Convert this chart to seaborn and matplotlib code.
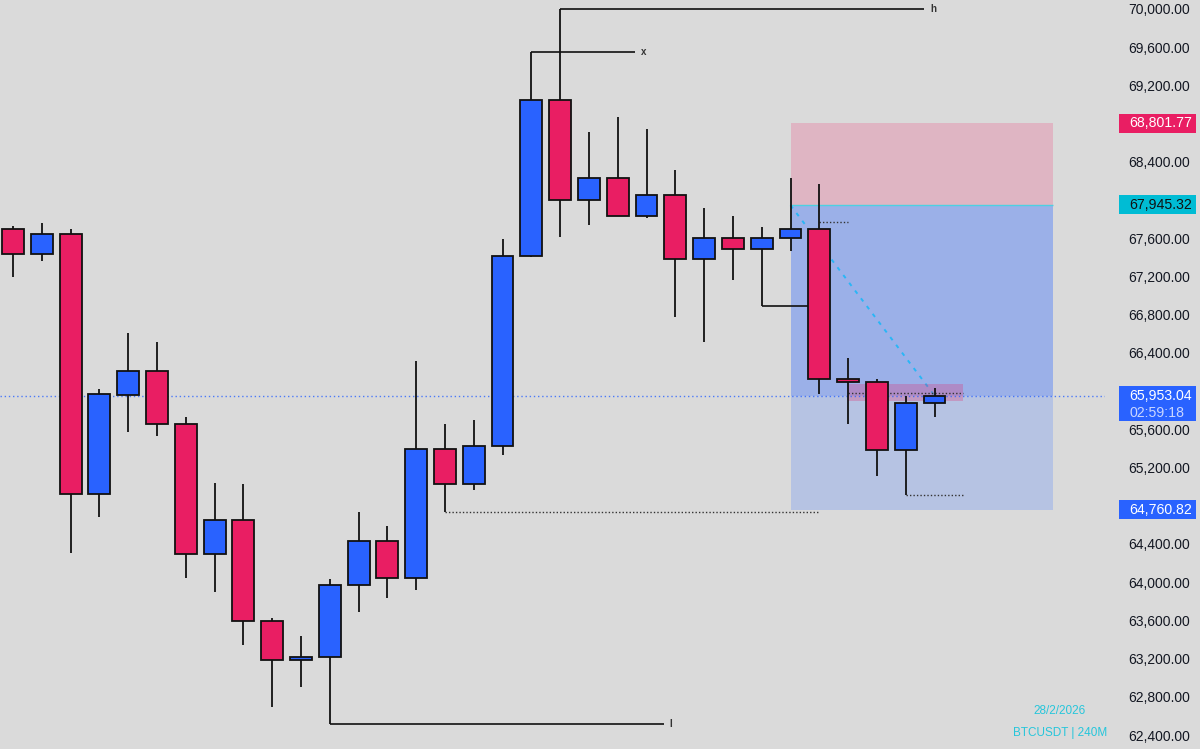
import numpy as np
import matplotlib.pyplot as plt
import matplotlib.transforms as mtransforms
from matplotlib.patches import Rectangle
import seaborn as sns

# BTCUSDT 4h candles
opens = [67697, 67435, 67645, 64923, 65959, 66211, 65656, 64295, 64651, 63594,
         63185, 63217, 63970, 64431, 64044, 65394, 65028, 65425, 67414, 69047,
         68001, 68231, 67833, 68053, 67383, 67603, 67488, 67603, 67697, 66127,
         66095, 65384, 65876]
highs = [67728, 67760, 67697, 66022, 66608, 66514, 65729, 65038, 65028, 63625,
         63437, 64033, 64735, 64588, 66315, 65656, 65698, 67592, 69550, 70000,
         68712, 68869, 68744, 68315, 67917, 67833, 67718, 68231, 68168, 66347,
         66127, 65949, 66033]
lows = [67195, 67362, 64305, 64682, 65572, 65530, 64044, 63897, 63342, 62693,
        62903, 62515, 63688, 63834, 63918, 64735, 64965, 65331, 67404, 67613,
        67739, 67833, 67812, 66776, 66514, 67163, 66891, 67467, 65970, 65656,
        65111, 64913, 65729]
closes = [67435, 67645, 64923, 65970, 66211, 65656, 64295, 64651, 63594, 63185,
          63217, 63970, 64431, 64044, 65394, 65028, 65425, 67414, 69047, 68001,
          68231, 67833, 68053, 67383, 67603, 67488, 67603, 67697, 66127, 66095,
          65384, 65876, 65953.04]

price_ticks = list(range(62400, 70001, 400))
# ticks hidden behind the price badges on the scale
hidden_ticks = [68800, 68000, 66000, 64800]

entry_price = 67945.32
stop_price = 68801.77
target_price = 64760.82
last_price = 65953.04
countdown = "02:59:18"
date_label = "28/2/2026"
symbol_label = "BTCUSDT | 240M"

# swing levels: (start candle, end, price, label)
solid_levels = [(19, 31.65, 70000, "h"), (18, 21.6, 69550, "x"), (11, 22.6, 62515, "l"),
                (26, 28, 66891, "")]
dotted_levels = [(15, 28, 64735), (31, 33.05, 64913), (28, 29, 67770), (29, 33, 65980)]

BG = "#dadada"
RED = "#e91e63"
BLUE = "#2962ff"

sns.set_theme(style="white", rc={"axes.facecolor": BG, "figure.facecolor": BG})
plt.rcParams['font.family'] = ['Liberation Sans', 'DejaVu Sans']

fig = plt.figure(figsize=(12, 7.49), dpi=100)
ax = fig.add_axes([0, 0, 1105 / 1200, 1])

x = np.arange(len(opens))
o = np.array(opens, dtype=float)
c = np.array(closes, dtype=float)
colors = [BLUE if cc >= oo else RED for oo, cc in zip(o, c)]

# short position box
box_l, box_r = 27, 36.1
ax.add_patch(Rectangle((box_l, entry_price), box_r - box_l, stop_price - entry_price,
                       facecolor="#dfb5c3", edgecolor="none", zorder=1))
ax.add_patch(Rectangle((box_l, last_price), box_r - box_l, entry_price - last_price,
                       facecolor="#9bb0e8", edgecolor="none", zorder=1))
ax.add_patch(Rectangle((box_l, target_price), box_r - box_l, last_price - target_price,
                       facecolor="#b6c3e3", edgecolor="none", zorder=1))
ax.hlines(entry_price, box_l, box_r, color="#4dd0e1", lw=1, zorder=1.5)
ax.plot([27, 32], [entry_price, last_price], color="#29b6f6", lw=1.4,
        linestyle=(0, (2, 3)), zorder=1.5)
ax.add_patch(Rectangle((29, 65897), 4, 177, facecolor=RED, alpha=0.25,
                       edgecolor="none", zorder=1.6))

# current price line
ax.axhline(last_price, color=BLUE, lw=1, linestyle=(0, (1, 2)), alpha=0.8, zorder=2)

for x0, x1, p, lab in solid_levels:
    ax.hlines(p, x0, x1, color="#111111", lw=1.2, zorder=2)
    if lab:
        ax.text(x1 + 0.2, p, lab, fontsize=7, fontweight="bold", color="#333333",
                va="center", ha="left", clip_on=False)
for x0, x1, p in dotted_levels:
    ax.hlines(p, x0, x1, color="#333333", lw=1, linestyle=(0, (1, 1.5)), zorder=2)

# candles
ax.vlines(x, lows, highs, color="#111111", lw=1.3, zorder=3)
ax.bar(x, np.abs(c - o), bottom=np.minimum(o, c), width=0.76, color=colors,
       edgecolor="#111111", linewidth=1.3, zorder=4)

ax.set_xlim(-0.451, 37.92)
ax.set_ylim(62254, 70094)
ax.set_xticks([])
ax.yaxis.tick_right()
ax.set_yticks(price_ticks)
ax.set_yticklabels(["" if t in hidden_ticks else f"{t:,.2f}" for t in price_ticks])
ax.tick_params(axis="y", length=0, pad=17, labelsize=10, labelcolor="#131722")
for s in ax.spines.values():
    s.set_visible(False)

# price badges on the scale
blend = mtransforms.blended_transform_factory(fig.transFigure, ax.transData)
bx0, bw = 1119 / 1200, 77 / 1200


def badge(top, bottom, color):
    ax.add_patch(Rectangle((bx0, bottom), bw, top - bottom, transform=blend,
                           facecolor=color, edgecolor="none", clip_on=False, zorder=10))


badge(68897, 68698, RED)
ax.text(1129 / 1200, stop_price, f"{stop_price:,.2f}", transform=blend, color="white",
        fontsize=10.2, va="center", ha="left", zorder=11, clip_on=False)
badge(68053, 67851, "#00bcd4")
ax.text(1129 / 1200, entry_price, f"{entry_price:,.2f}", transform=blend, color="#111111",
        fontsize=10.2, va="center", ha="left", zorder=11, clip_on=False)
badge(66051, 65685, BLUE)
ax.text(1129 / 1200, 65953, f"{last_price:,.2f}", transform=blend, color="white",
        fontsize=10.2, va="center", ha="left", zorder=11, clip_on=False)
ax.text(1129 / 1200, 65770, countdown, transform=blend, color="#c9d6ff",
        fontsize=10.2, va="center", ha="left", zorder=11, clip_on=False)
badge(64857, 64662, BLUE)
ax.text(1129 / 1200, target_price, f"{target_price:,.2f}", transform=blend, color="white",
        fontsize=10.2, va="center", ha="left", zorder=11, clip_on=False)

fig.text(1060 / 1200, 1 - 711 / 749, date_label, color="#26c6da", fontsize=8.5,
         ha="center", va="center")
fig.text(1060 / 1200, 1 - 733 / 749, symbol_label, color="#26c6da", fontsize=8.5,
         ha="center", va="center")

fig.savefig("out.png", dpi=100, facecolor=BG)
